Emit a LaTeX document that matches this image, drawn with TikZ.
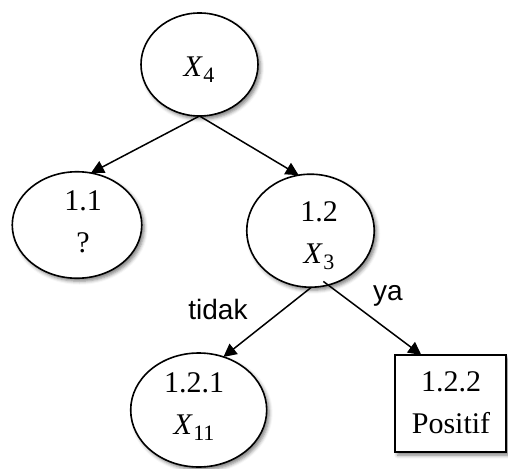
\documentclass[tikz,border=0pt]{standalone}
\usepackage{fontspec}
\setmainfont{Liberation Serif}
\newfontfamily\labelfont{Liberation Sans}
\usetikzlibrary{arrows.meta,shapes.geometric,shadows.blur}

% italic variable with an upright, lowered index
\newcommand\varx[1]{\textit{X}\kern0.5pt\raisebox{-6pt}{\fontsize{22}{22}\selectfont #1}}

\tikzset{
  softshadow/.style={blur shadow={shadow xshift=2.5pt, shadow yshift=-3pt,
      shadow blur radius=3.5pt, shadow opacity=50}},
  decision/.style={ellipse, draw, line width=1.6pt, fill=white, inner sep=0pt,
      outer sep=0pt, softshadow},
  leaf/.style={rectangle, draw, line width=1.6pt, fill=white, inner sep=0pt,
      outer sep=0pt, softshadow},
  txt/.style={inner sep=0pt, outer sep=0pt, align=center,
      font=\fontsize{30}{42}\selectfont},
  branch/.style={line width=1.5pt, -{Triangle[length=13pt,width=13pt]}},
  branchlabel/.style={inner sep=0pt, anchor=base, font=\labelfont\fontsize{28}{28}\selectfont},
}

\begin{document}
\begin{tikzpicture}[x=1pt, y=-1pt]
  \useasboundingbox (0,0) rectangle (508,468);

  % tree shapes
  \node[decision, minimum width=117pt, minimum height=103pt] (root) at (199.5,64.5) {};
  \node[decision, minimum width=129.5pt, minimum height=106.5pt] (n11) at (77,225) {};
  \node[decision, minimum width=127.5pt, minimum height=113pt] (n12) at (310.5,230.7) {};
  \node[decision, minimum width=136pt, minimum height=114pt] (n121) at (198.7,410) {};
  \node[leaf, minimum width=111pt, minimum height=97pt] (n122) at (450.5,403.5) {};

  % node texts
  \node[txt] (troot) at (199,70) {\varx{4}};
  \node[txt] (t11) at (83,222.3) {1.1\\?};
  \node[txt] (t12) at (319,236) {1.2\\\varx{3}};
  \node[txt] (t121) at (194,406.5) {1.2.1\\\varx{11}};
  \node[txt] (t122) at (451,403.2) {1.2.2\\Positif};

  % branches
  \draw[branch] (root.south) -- (n11.75.7);
  \draw[branch] (root.south) -- (n12.102);
  \draw[branch] (n12.271.5) -- (n121.65.9);
  \draw[branch, shorten <=-6pt] (n12.288.7) -- (n122.121);

  % branch labels
  \node[branchlabel] (ltidak) at (218,319) {tidak};
  \node[branchlabel] (lya) at (388,300.5) {ya};
\end{tikzpicture}
\end{document}
